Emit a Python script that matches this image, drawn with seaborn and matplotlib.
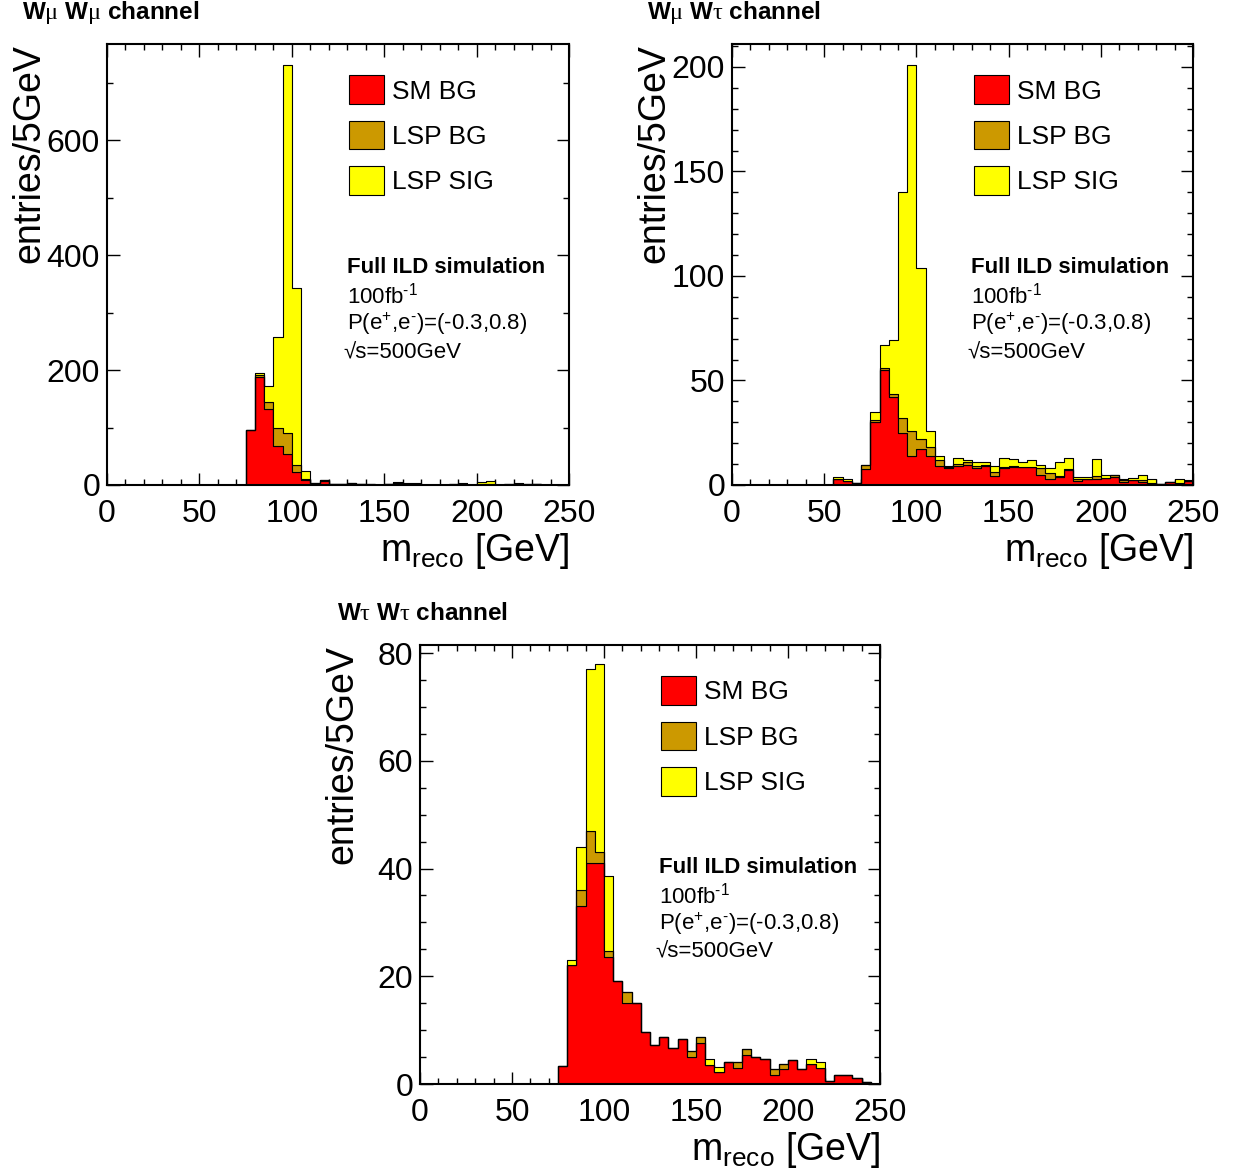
import numpy as np
import pandas as pd
import matplotlib
matplotlib.use("Agg")
import matplotlib.pyplot as plt
import seaborn as sns
from matplotlib.patches import Patch
from matplotlib.ticker import MultipleLocator

sns.set_style("ticks")
plt.rcParams["font.family"] = ["Liberation Sans", "DejaVu Sans"]
plt.rcParams["mathtext.fontset"] = "custom"
plt.rcParams["mathtext.rm"] = "Liberation Sans"
plt.rcParams["mathtext.it"] = "Liberation Sans:italic"
plt.rcParams["mathtext.bf"] = "Liberation Sans:bold"
plt.rcParams["mathtext.sf"] = "Liberation Serif"
for key in ["text.color", "axes.labelcolor", "xtick.color", "ytick.color",
            "axes.edgecolor"]:
    plt.rcParams[key] = "black"

# 5 GeV bins from 0 to 250 GeV
bin_centers = np.arange(2.5, 250, 5)

# W mu W mu channel (50 bins each)
mumu_sm = [0] * 15 + [95, 187, 132, 68, 54, 23, 8, 2, 7, 1,
                      1, 1, 1, 0, 0, 1, 1, 0, 0, 0,
                      0, 0, 0, 0, 0, 0, 0, 0, 0, 0,
                      0, 1, 0, 0, 0]
mumu_bg = [0] * 15 + [0, 4, 13, 32, 37, 11, 2, 2, 1, 1,
                      0, 2, 1, 1, 0, 1, 2, 1, 1, 0,
                      0, 0, 1, 2, 0, 1, 1, 0, 2, 2,
                      2, 1, 0, 0, 0]
mumu_sig = [0] * 15 + [0, 3, 28, 158, 640, 309, 15, 0, 0, 0,
                       0, 0, 0, 0, 0, 0, 2, 3, 2, 0,
                       0, 0, 0, 1, 0, 4, 6, 0, 0, 2,
                       0, 0, 0, 0, 0]

# W mu W tau channel
mutau_sm = [0] * 11 + [3, 2, 1, 7.5, 30, 55, 42, 25, 14, 17,
                       14, 9, 8, 9, 9.5, 8, 9, 4.5, 8, 8.8,
                       8.8, 8.8, 4.8, 2.7, 4, 7.2, 1.8, 3, 3, 3.3,
                       4, 1.4, 2.4, 1.4, 1, 0.6, 1.4, 1, 1.8]
mutau_bg = [0] * 11 + [0, 0, 0, 2, 1, 1, 1.5, 7, 12, 5,
                       4, 3, 0.5, 1, 1.5, 1, 0.5, 1.5, 0.5, 0.5,
                       0, 0, 3.2, 3.2, 0.5, 0.6, 1, 0, 1.3, 0,
                       1, 1, 0, 1, 0, 0, 0, 0, 0]
mutau_sig = [0] * 11 + [1, 1, 0, 0, 4, 11, 26, 108, 175, 82,
                        8, 2, 0.5, 3, 1, 2, 1.5, 3, 4.5, 3,
                        2, 3, 1.5, 2, 6.5, 5.3, 1, 1, 8, 1.6,
                        0, 0.5, 1, 2.5, 2, 0, 0, 2, 0.6]

# W tau W tau channel
tautau_sm = [0] * 15 + [3.3, 22, 33, 41, 41, 23.6, 19.2, 15, 15, 9.7,
                        7.3, 8.8, 6.6, 8.3, 5, 7.7, 3.5, 2.2, 4.1, 3,
                        5.4, 5.1, 4.6, 1.7, 2.7, 4.4, 2.8, 3.7, 3, 0.6,
                        1.7, 1.7, 1.2, 0.4, 0]
tautau_bg = [0] * 15 + [0, 0, 3, 6, 2, 1, 0, 2, 0, 0,
                        0, 0, 0, 0, 1.1, 1.1, 0, 0, 0, 1,
                        1.1, 0, 0, 1, 1.1, 0, 0, 0, 0, 0,
                        0, 0, 0, 0, 0]
tautau_sig = [0] * 15 + [0, 1, 8, 30, 35, 14, 0, 0, 0, 0,
                         0, 0, 0, 0, 0, 0, 1.1, 1, 0, 0,
                         0, 0, 0, 0, 0, 0, 0, 1, 1, 0,
                         0, 0, 0, 0, 0]

components = ["SM BG", "LSP BG", "LSP SIG"]
colors = {"SM BG": "#ff0000", "LSP BG": "#cc9900", "LSP SIG": "#ffff00"}


def draw_channel(ax, sm, bg, sig, ymax, ymajor, yminor, title, title_xy, fig):
    df = pd.concat(
        [pd.DataFrame({"m": bin_centers, "w": vals, "comp": name})
         for name, vals in zip(components, [sm, bg, sig])],
        ignore_index=True,
    )
    # seaborn stacks the last hue level at the bottom
    sns.histplot(data=df, x="m", weights="w", hue="comp",
                 hue_order=components[::-1], binwidth=5, binrange=(0, 250),
                 multiple="stack", element="step", fill=True,
                 palette=colors, alpha=1, edgecolor="black",
                 linewidth=0.8, legend=False, ax=ax)
    ax.set_xlim(0, 250)
    ax.set_ylim(0, ymax)
    ax.xaxis.set_major_locator(MultipleLocator(50))
    ax.xaxis.set_minor_locator(MultipleLocator(10))
    ax.yaxis.set_major_locator(MultipleLocator(ymajor))
    ax.yaxis.set_minor_locator(MultipleLocator(yminor))
    ax.tick_params(which="both", direction="in", top=True, right=True,
                   width=1, color="black")
    ax.tick_params(which="major", length=9, labelsize=23)
    ax.tick_params(which="minor", length=4.5)
    ax.tick_params(axis="x", pad=10)
    ax.tick_params(axis="y", pad=5)
    for s in ax.spines.values():
        s.set_linewidth(1.5)
        s.set_color("black")

    ax.set_xlabel(r"m$_{\mathrm{reco}}$ [GeV]", fontsize=27, loc="right")
    ax.xaxis.set_label_coords(1.0, -0.105)
    ax.set_ylabel("entries/5GeV", fontsize=27, loc="top")
    ax.yaxis.set_label_coords(-0.13, 1.0)

    handles = [Patch(facecolor=colors[n], edgecolor="black", linewidth=0.8, label=n)
               for n in components]
    ax.legend(handles=handles, loc="upper left", bbox_to_anchor=(0.524, 0.929),
              frameon=False, fontsize=19, handlelength=1.33, handleheight=1.3,
              handletextpad=0.3, labelspacing=0.63, borderpad=0, borderaxespad=0)

    ax.text(0.519, 0.494, "Full ILD simulation", transform=ax.transAxes,
            fontsize=16, fontweight="bold", va="center", ha="left")
    ax.text(0.519, 0.429, "100fb$^{\u2010\\mathrm{1}}$", transform=ax.transAxes,
            fontsize=16, va="center", ha="left")
    ax.text(0.519, 0.365, "P(e$^{+}$,e$^{\u2010}$)=(-0.3,0.8)", transform=ax.transAxes,
            fontsize=16, va="center", ha="left")
    ax.text(0.511, 0.300, "\u221as=500GeV", transform=ax.transAxes,
            fontsize=16, va="center", ha="left")

    fig.text(title_xy[0], title_xy[1], title, fontsize=17.5, fontweight="bold",
             va="center", ha="left")


fig = plt.figure(figsize=(12.42, 11.73), dpi=100)
ax1 = fig.add_axes([107 / 1242, 1 - 485 / 1173, 462 / 1242, 441 / 1173])
ax2 = fig.add_axes([732 / 1242, 1 - 485 / 1173, 461 / 1242, 441 / 1173])
ax3 = fig.add_axes([420 / 1242, 1 - 1084 / 1173, 460 / 1242, 439 / 1173])

draw_channel(ax1, mumu_sm, mumu_bg, mumu_sig, 767, 200, 100,
             r"W$\mathsf{\mu}$ W$\mathsf{\mu}$ channel", (22 / 1242, 1 - 13 / 1173), fig)
draw_channel(ax2, mutau_sm, mutau_bg, mutau_sig, 211, 50, 10,
             r"W$\mathsf{\mu}$ W$\mathsf{\tau}$ channel", (647 / 1242, 1 - 13 / 1173), fig)
draw_channel(ax3, tautau_sm, tautau_bg, tautau_sig, 81.5, 20, 5,
             r"W$\mathsf{\tau}$ W$\mathsf{\tau}$ channel", (337 / 1242, 1 - 613 / 1173), fig)

fig.savefig("out.png", dpi=100)
